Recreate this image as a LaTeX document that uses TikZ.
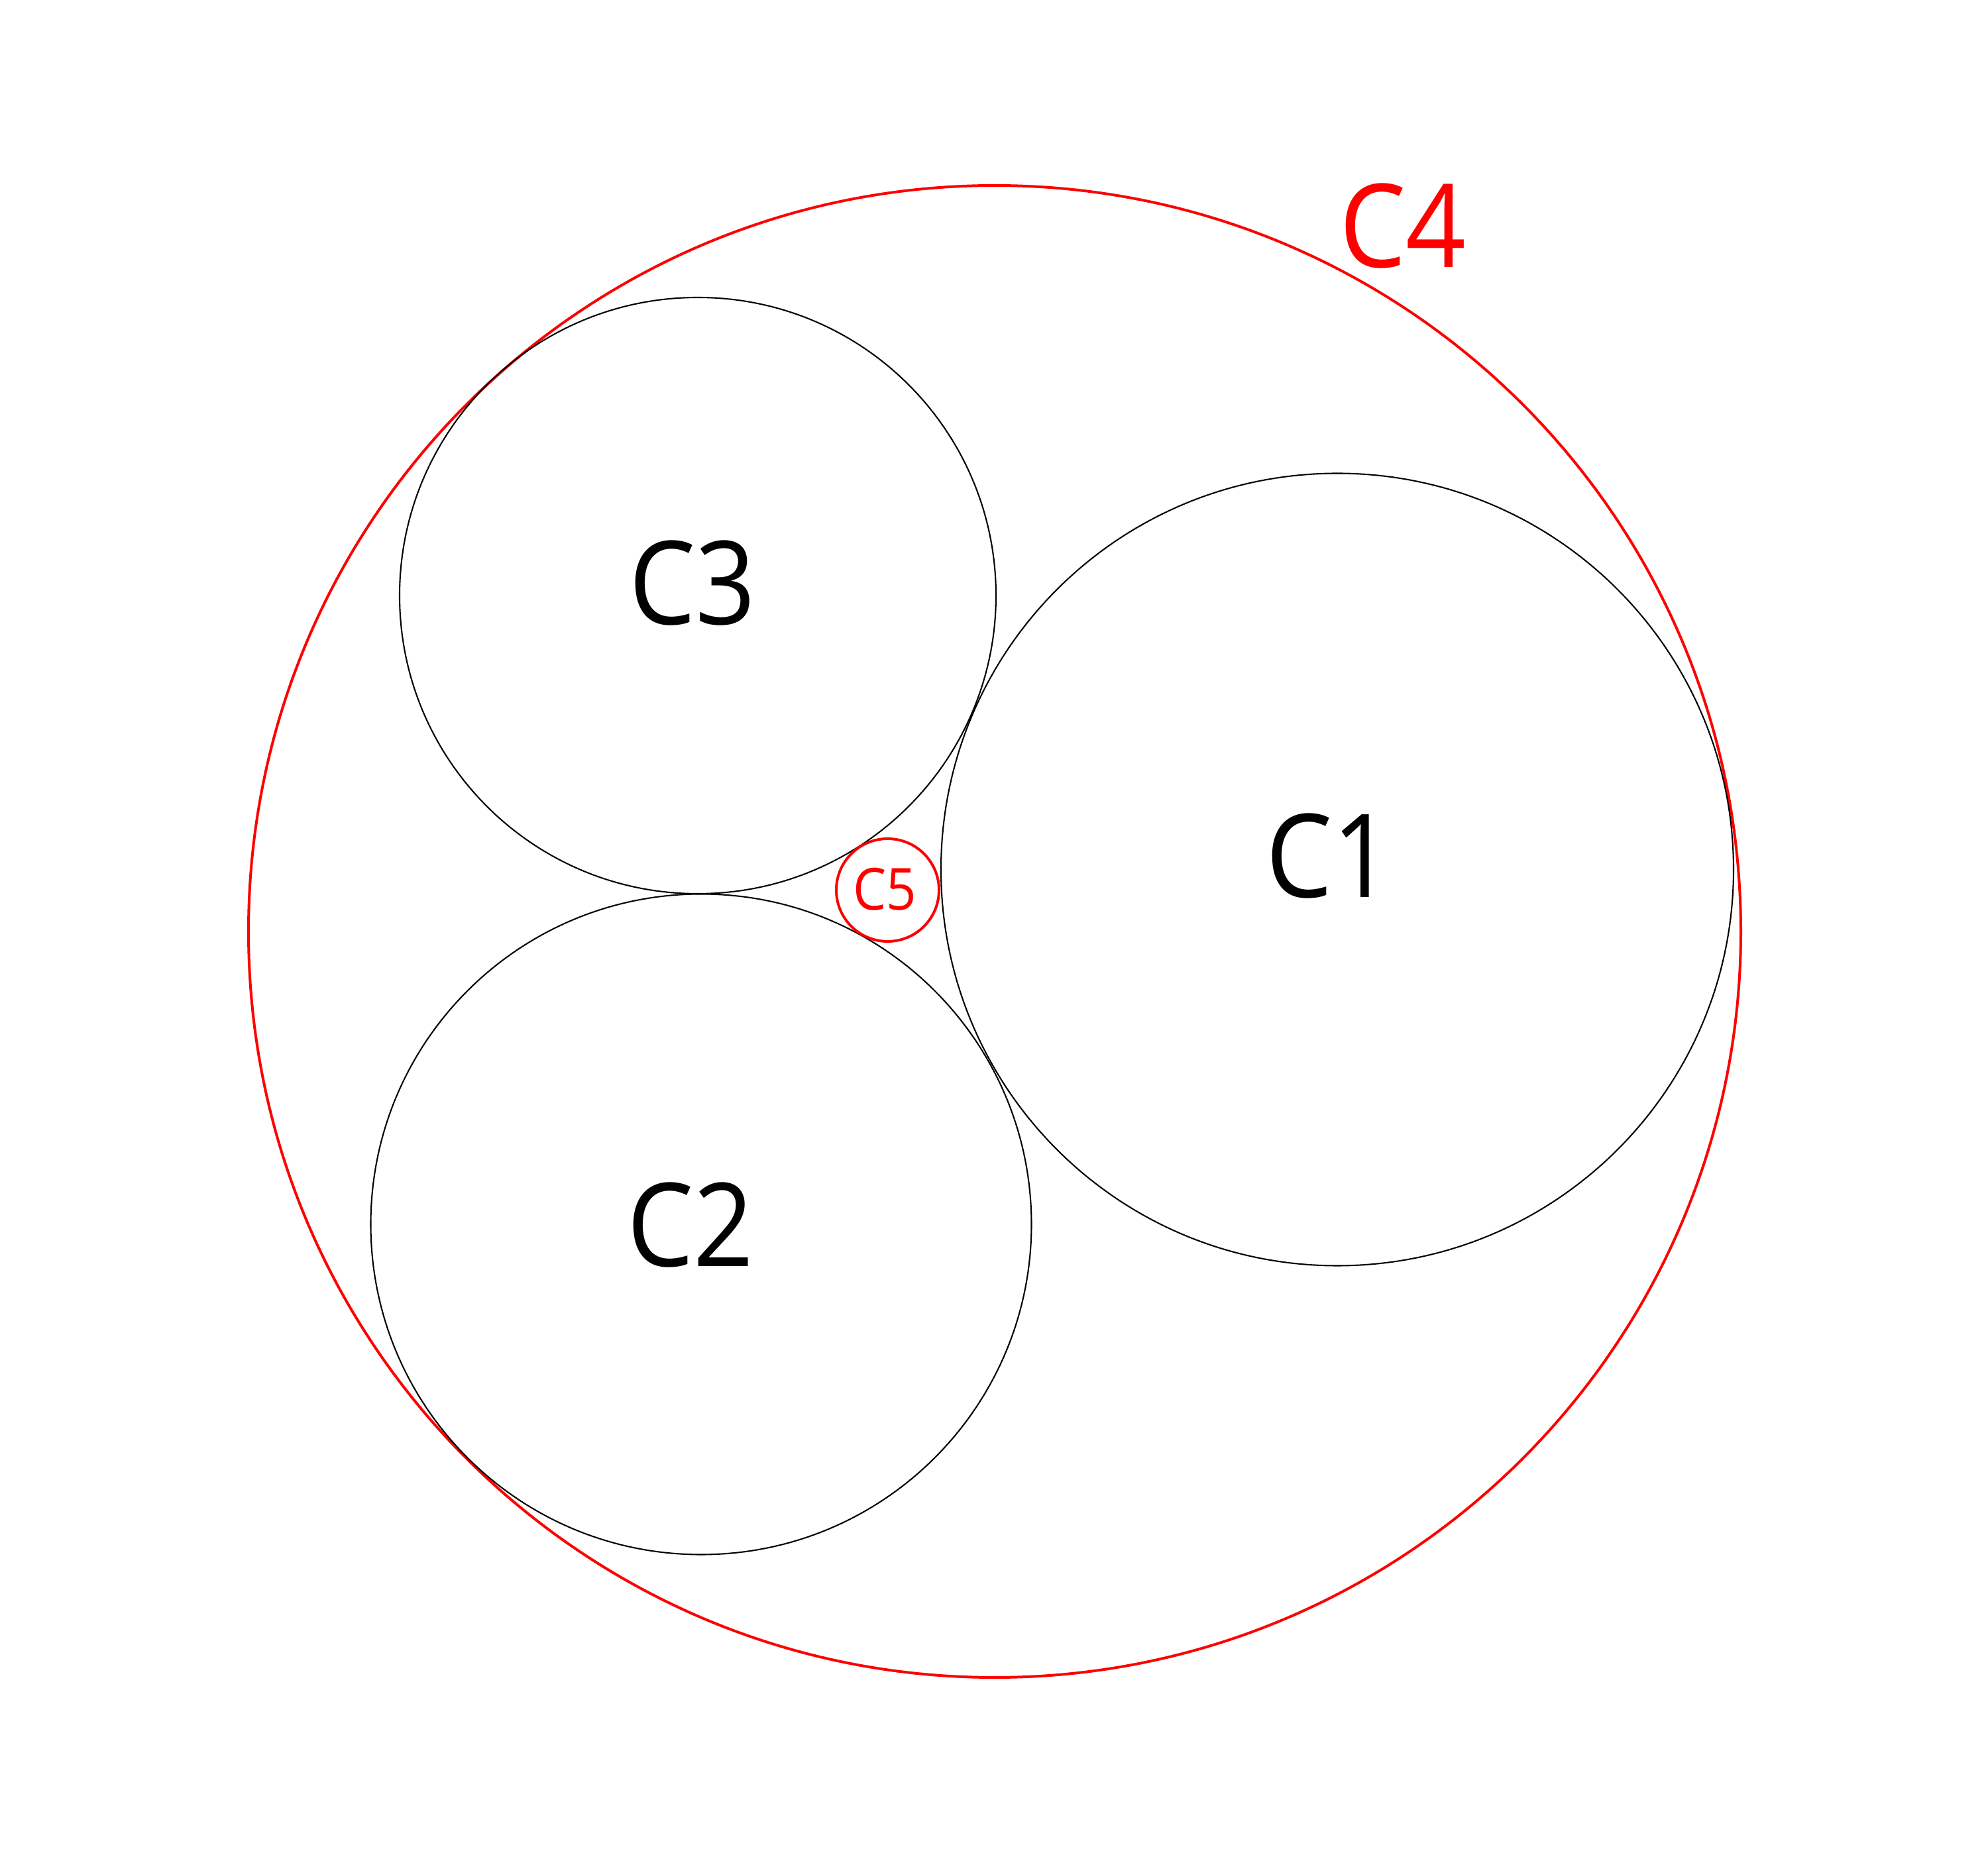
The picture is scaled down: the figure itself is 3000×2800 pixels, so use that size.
\documentclass[tikz,border=0pt]{standalone}
\usepackage{fontspec}
\setmainfont{Open Sans}[FakeStretch=0.91]
\definecolor{cred}{RGB}{255,0,0}
\tikzset{
  ring/.style={circle, draw=black, line width=0.5pt, inner sep=0pt, outer sep=0pt},
  redring/.style={circle, draw=cred, line width=0.96pt, inner sep=0pt, outer sep=0pt},
  biglabel/.style={inner sep=0pt, font=\fontsize{42pt}{42pt}\selectfont, text=black},
  smalllabel/.style={inner sep=0pt, font=\fontsize{21pt}{21pt}\selectfont, text=cred}
}
\begin{document}
\begin{tikzpicture}[x=0.24pt, y=-0.24pt]
\useasboundingbox[fill=white] (0,0) rectangle (3000,2800);
\node[redring, minimum size=2252*0.24pt] (c4) at (1501,1406) {};
\node[ring, minimum size=1196*0.24pt] (c1) at (2018,1312.5) {};
\node[ring, minimum size=997*0.24pt] (c2) at (1058,1848) {};
\node[ring, minimum size=900*0.24pt] (c3) at (1053,899) {};
\node[redring, minimum size=155*0.24pt] (c5) at (1339.5,1343.5) {};
\node[biglabel] (l1) at (2006,1292) {C1};
\node[biglabel] (l2) at (1042,1849) {C2};
\node[biglabel] (l3) at (1045,880) {C3};
\node[biglabel, text=cred] (l4) at (2117,341) {C4};
\node[smalllabel] (l5) at (1335,1342) {C5};
\end{tikzpicture}
\end{document}
